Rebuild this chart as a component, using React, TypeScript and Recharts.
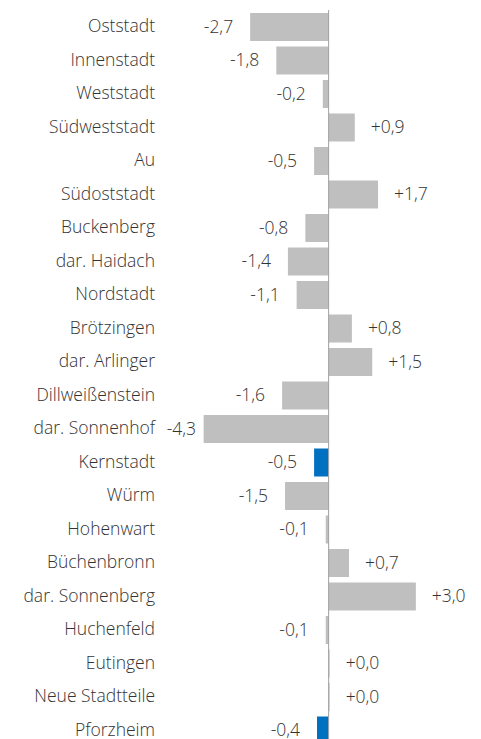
import React from "react";
import { BarChart, Bar, XAxis, YAxis, Cell, LabelList, ReferenceLine } from "recharts";

const districts = [
  "Oststadt", "Innenstadt", "Weststadt", "Südweststadt", "Au", "Südoststadt",
  "Buckenberg", "dar. Haidach", "Nordstadt", "Brötzingen", "dar. Arlinger",
  "Dillweißenstein", "dar. Sonnenhof", "Kernstadt", "Würm", "Hohenwart",
  "Büchenbronn", "dar. Sonnenberg", "Huchenfeld", "Eutingen", "Neue Stadtteile", "Pforzheim",
];
const changes = [
  -2.7, -1.8, -0.2, 0.9, -0.5, 1.7,
  -0.8, -1.4, -1.1, 0.8, 1.5,
  -1.6, -4.3, -0.5, -1.5, -0.1,
  0.7, 3.0, -0.1, 0.0, 0.0, -0.4,
];
const highlighted = ["Kernstadt", "Pforzheim"];

const data = districts.map((name, i) => ({ name, value: changes[i] }));

const FONT = "'Open Sans', 'DejaVu Sans', sans-serif";
const TEXT = "#333333";
const GRAY = "#bfbfbf";
const BLUE = "#0070c0";
const LABEL_MIN_END = 196;
const FS = 17.5;

const fmt = (v: number) => (v >= 0 ? "+" : "-") + Math.abs(v).toFixed(1).replace(".", ",");

const CatTick = (props: any) => {
  const { x, y, payload } = props;
  return (
    <text x={x} y={y} dy={5.5} textAnchor="end" fill={TEXT} fontSize={FS} fontFamily={FONT} fontWeight={300}>
      {payload.value}
    </text>
  );
};

const ValueLabel = (props: any) => {
  const { x, y, width, height, value } = props;
  const left = Math.min(x, x + width);
  const right = Math.max(x, x + width);
  const cy = y + height / 2;
  if (value < 0) {
    return (
      <text x={Math.max(left - 17, LABEL_MIN_END)} y={cy} dy={5.5} textAnchor="end" fill={TEXT} fontSize={FS} fontFamily={FONT} fontWeight={300}>
        {fmt(value)}
      </text>
    );
  }
  return (
    <text x={right + 16} y={cy} dy={5.5} textAnchor="start" fill={TEXT} fontSize={FS} fontFamily={FONT} fontWeight={300}>
      {fmt(value)}
    </text>
  );
};

export default function App() {
  return (
    <div style={{ position: "absolute", left: 0, top: 0, width: 481, height: 739, overflow: "hidden", background: "#fff" }}>
      <BarChart
        width={481}
        height={747}
        data={data}
        layout="vertical"
        margin={{ top: 10, right: 7, bottom: 0, left: 0 }}
        barSize={28}
      >
        <XAxis type="number" domain={[-5.8, 5.0]} height={0} axisLine={false} tickLine={false} tick={false} />
        <YAxis
          type="category"
          dataKey="name"
          width={160}
          axisLine={false}
          tickLine={false}
          tickSize={0}
          tickMargin={5}
          interval={0}
          tick={<CatTick />}
        />
        <Bar dataKey="value" isAnimationActive={false} minPointSize={1}>
          {data.map((d) => (
            <Cell key={d.name} fill={highlighted.includes(d.name) ? BLUE : GRAY} />
          ))}
          <LabelList dataKey="value" content={<ValueLabel />} />
        </Bar>
        <ReferenceLine x={0} stroke="#a0a0a0" strokeWidth={1} />
      </BarChart>
    </div>
  );
}
